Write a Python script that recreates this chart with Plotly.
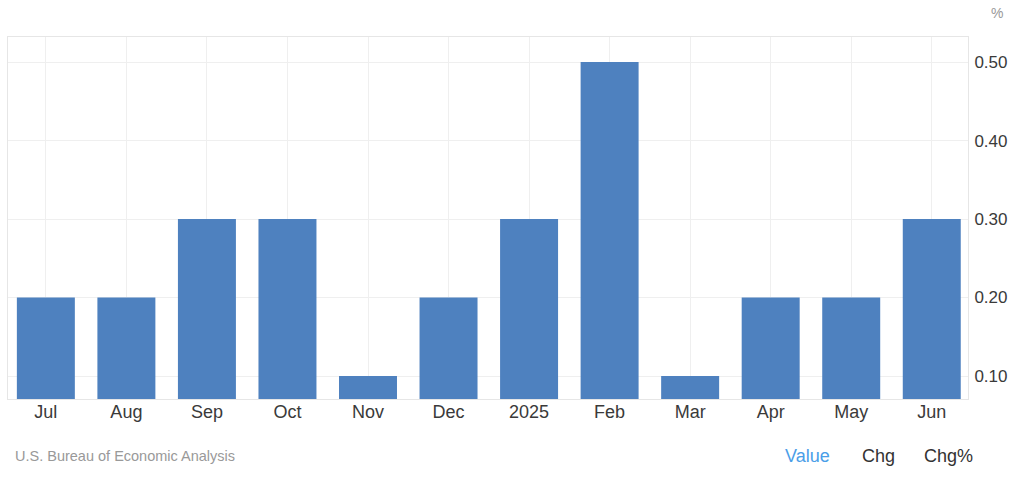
import plotly.graph_objects as go

categories = ["Jul", "Aug", "Sep", "Oct", "Nov", "Dec", "2025", "Feb", "Mar", "Apr", "May", "Jun"]
values = [0.2, 0.2, 0.3, 0.3, 0.1, 0.2, 0.3, 0.5, 0.1, 0.2, 0.2, 0.3]
y_ticks = [0.1, 0.2, 0.3, 0.4, 0.5]
y_tick_labels = ["0.10", "0.20", "0.30", "0.40", "0.50"]

W, H = 1024, 482
L, R, T, B = 8, 56, 37, 83
PW, PH = W - L - R, H - T - B


def px(x):
    return (x - L) / PW


def py(y):
    return 1 - (y - T) / PH


fig = go.Figure()
fig.add_trace(go.Bar(x=categories, y=values, marker=dict(color="#4e81bf", line=dict(width=0)),
                     width=0.72, hoverinfo="x+y"))

ann = [
    dict(text="%", x=px(997), y=py(13), font=dict(size=14, color="#999999")),
    dict(text="U.S. Bureau of Economic Analysis", x=px(13), y=py(456), xanchor="left",
         font=dict(size=14.5, color="#999999")),
    dict(text="Value", x=px(807), y=py(456), font=dict(size=18, color="#4a9ee8")),
    dict(text="Chg", x=px(878), y=py(456), font=dict(size=18, color="#333333")),
    dict(text="Chg%", x=px(948), y=py(456), font=dict(size=18, color="#333333")),
]
for a in ann:
    a.update(xref="paper", yref="paper", showarrow=False, yanchor="middle")
    a.setdefault("xanchor", "center")

fig.update_layout(
    width=W, height=H,
    margin=dict(l=L, r=R, t=T, b=B),
    paper_bgcolor="white", plot_bgcolor="white",
    showlegend=False,
    font=dict(family="Liberation Sans, Arial, sans-serif", color="#333333", size=15),
    xaxis=dict(type="category", range=[-0.47, 11.45], showgrid=True, gridcolor="#efefef",
               showline=True, linecolor="#e6e6e6", mirror=True, ticks="",
               ticklabelstandoff=-4,
               tickfont=dict(size=18, color="#3a3a3a")),
    yaxis=dict(side="right", range=[0.0707, 0.532], tickvals=y_ticks, ticktext=y_tick_labels,
               showgrid=True, gridcolor="#efefef", zeroline=False,
               showline=True, linecolor="#e6e6e6", mirror=True,
               ticks="outside", ticklen=2, tickcolor="rgba(0,0,0,0)",
               tickfont=dict(size=17, color="#3a3a3a")),
    annotations=ann,
)

fig.write_html("out.html", config={"displayModeBar": False},
               post_script="document.body.style.margin='0';document.body.style.overflow='hidden';")
